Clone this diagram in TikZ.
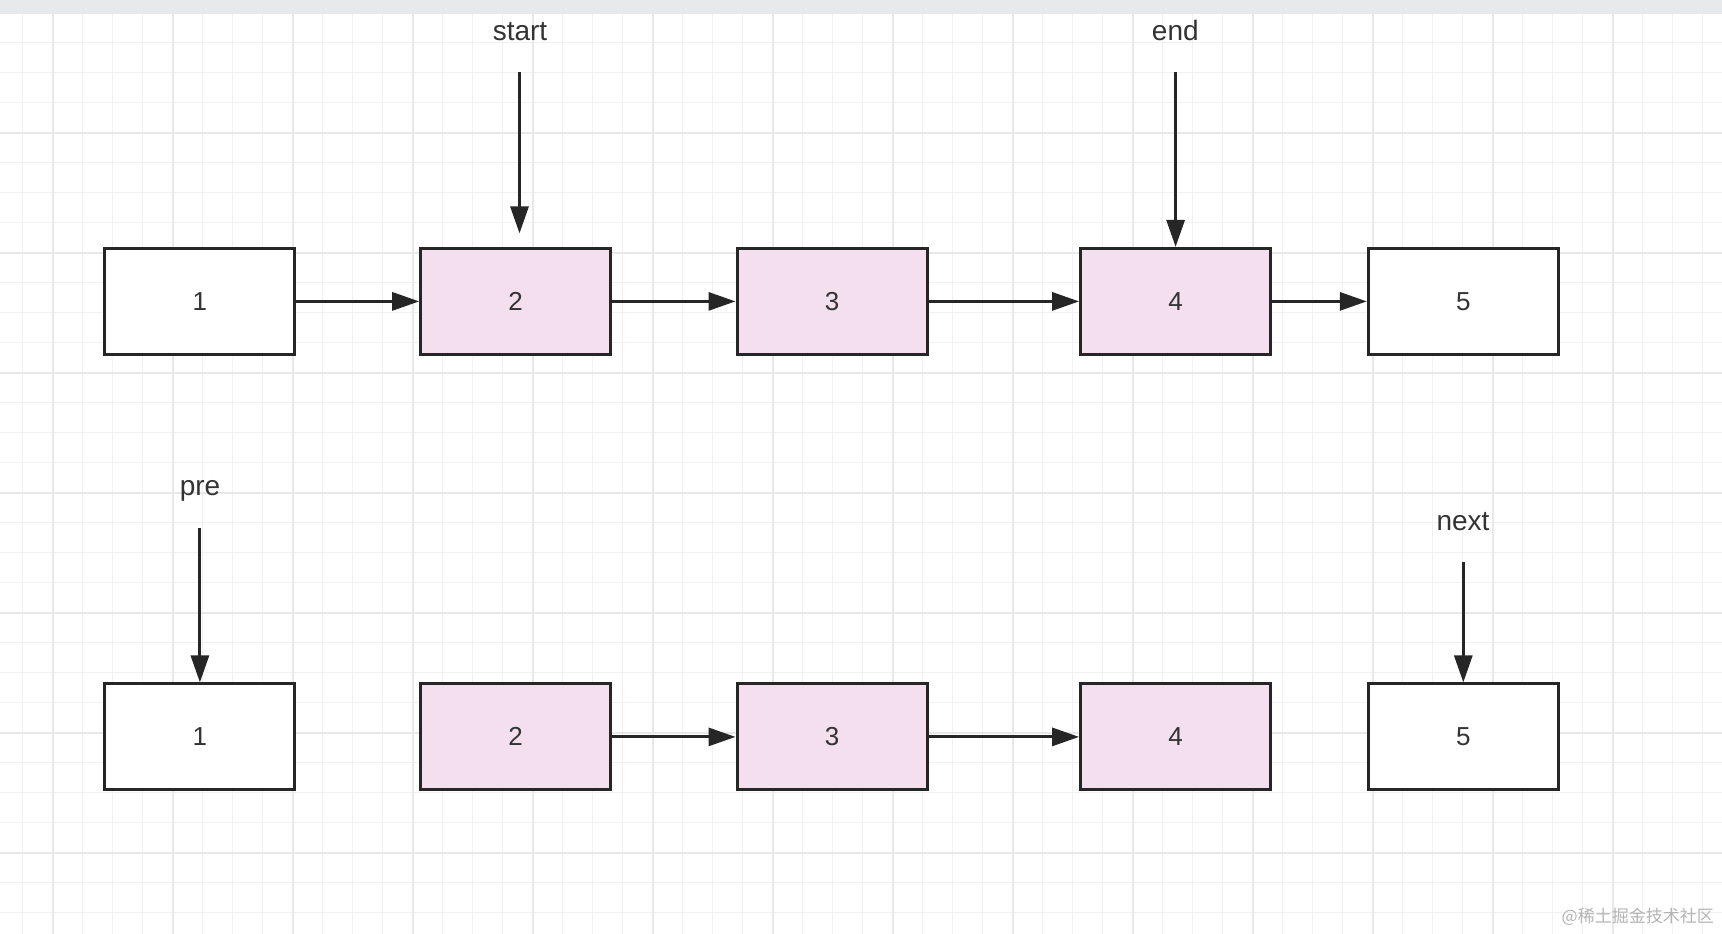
\documentclass[tikz,border=0pt]{standalone}
\usepackage{fontspec}
\setmainfont{Liberation Sans}
\newfontfamily\cjk{Noto Sans CJK SC}
\usetikzlibrary{arrows.meta}
\definecolor{pinkfill}{HTML}{F3DFEE}
\definecolor{edge}{HTML}{262626}
\definecolor{txt}{HTML}{333333}
\definecolor{gminor}{HTML}{F1F1F1}
\definecolor{gmajor}{HTML}{E8E8E8}
\definecolor{topbar}{HTML}{E8E9EB}
\definecolor{wmark}{HTML}{B4B4B4}
\begin{document}
\begin{tikzpicture}[x=1pt,y=-1pt,
  box/.style={draw=edge, line width=3pt, minimum width=190pt, minimum height=106pt, inner sep=0pt, font=\fontsize{26}{30}\selectfont, text=txt, fill=white},
  hl/.style={box, fill=pinkfill},
  lbl/.style={font=\fontsize{28}{32}\selectfont, text=txt, inner sep=0pt, anchor=base},
  arr/.style={draw=edge, line width=3pt, -{Triangle[length=27pt,width=18pt]}},
  minorline/.style={draw=gminor, line width=1.2pt},
  majorline/.style={draw=gmajor, line width=1.8pt}]
\path[use as bounding box, fill=white] (0,0) rectangle (1722,934);
% grid
\foreach \i in {0,...,57} {\draw[minorline] ({22.7+30*\i},0) -- ({22.7+30*\i},934);}
\foreach \i in {0,...,31} {\draw[minorline] (0,{12.7+30*\i}) -- (1722,{12.7+30*\i});}
\foreach \i in {0,...,14} {\draw[majorline] ({52.7+120*\i},0) -- ({52.7+120*\i},934);}
\foreach \i in {0,...,7} {\draw[majorline] (0,{12.7+120*\i}) -- (1722,{12.7+120*\i});}
\fill[topbar] (0,0) rectangle (1722,13);
% row 1
\node[box] (a1) at (199.9,301.4) {1};
\node[hl]  (a2) at (515.7,301.4) {2};
\node[hl]  (a3) at (832,301.4) {3};
\node[hl]  (a4) at (1175.6,301.4) {4};
\node[box] (a5) at (1463.3,301.4) {5};
\draw[arr] (a1.east) -- (a2.west);
\draw[arr] (a2.east) -- (a3.west);
\draw[arr] (a3.east) -- (a4.west);
\draw[arr] (a4.east) -- (a5.west);
% row 2
\node[box] (b1) at (199.9,736.9) {1};
\node[hl]  (b2) at (515.7,736.9) {2};
\node[hl]  (b3) at (832,736.9) {3};
\node[hl]  (b4) at (1175.6,736.9) {4};
\node[box] (b5) at (1463.3,736.9) {5};
\draw[arr] (b2.east) -- (b3.west);
\draw[arr] (b3.east) -- (b4.west);
% labels
\node[lbl] (start) at (520,40.7) {start};
\node[lbl] (endl) at (1175.3,40.7) {end};
\node[lbl] (pre) at (200,495.7) {pre};
\node[lbl] (next) at (1463,530) {next};
\coordinate (sa) at (519.5,72.5);
\coordinate (ea) at (1175.6,72.5);
\coordinate (pa) at (199.9,528);
\coordinate (na) at (1463.3,562);
\draw[arr, shorten >=13.5pt] (sa) -- (sa |- a2.north);
\draw[arr] (ea) -- (a4.north);
\draw[arr] (pa) -- (b1.north);
\draw[arr] (na) -- (b5.north);
% watermark
\node[font=\cjk\fontsize{17}{20}\selectfont, text=wmark, anchor=east, inner sep=0pt] (wm) at (1714,917) {@稀土掘金技术社区};
\end{tikzpicture}
\end{document}
